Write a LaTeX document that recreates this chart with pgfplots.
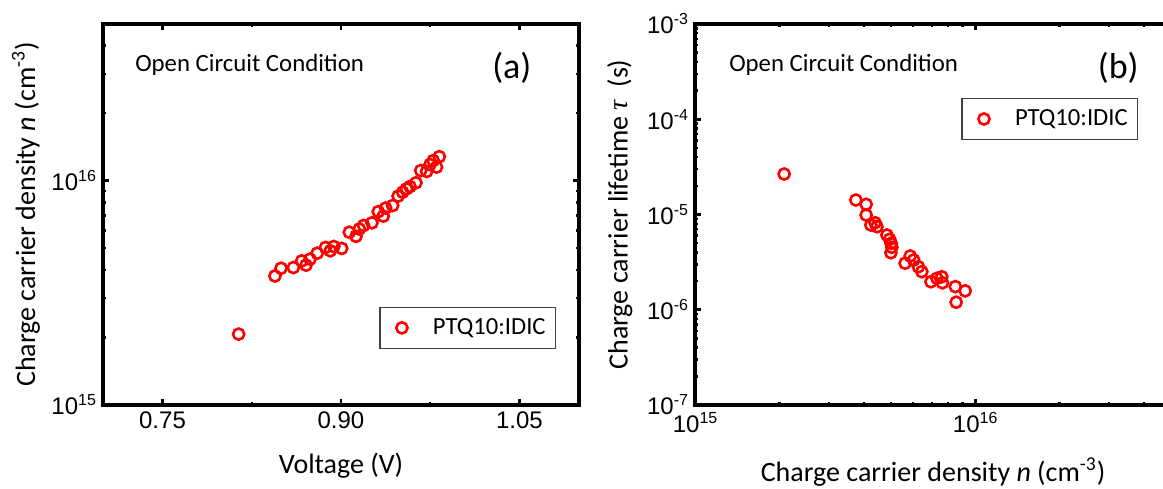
\documentclass[border=0pt]{standalone}
\usepackage{fontspec}
\setmainfont{Carlito}
\newfontfamily\arialfont{Liberation Sans}
\newfontfamily\greekserif{Liberation Serif}
\usepackage{pgfplots}
\pgfplotsset{compat=1.18}

% power-of-ten tick labels set in the sans tick font
\newcommand{\tenexp}[1]{10\raisebox{4.5pt}{\fontsize{8}{9}\selectfont #1}}

\pgfplotstableread{
V      n
0.814  2.07e15
0.8445 3.76e15
0.8496 4.07e15
0.860  4.10e15
0.867  4.39e15
0.8706 4.20e15
0.874  4.47e15
0.880  4.75e15
0.887  5.04e15
0.891  4.87e15
0.894  5.09e15
0.9006 4.99e15
0.907  5.89e15
0.9126 5.65e15
0.9154 6.09e15
0.919  6.31e15
0.926  6.49e15
0.9313 7.28e15
0.9355 6.95e15
0.9375 7.55e15
0.9434 7.75e15
0.948  8.54e15
0.9518 8.89e15
0.9551 9.20e15
0.958  9.42e15
0.963  9.79e15
0.967  1.11e16
0.972  1.10e16
0.9748 1.18e16
0.9775 1.23e16
0.9803 1.15e16
0.9826 1.28e16
}\densityvoltage

\pgfplotstableread{
n       tau
2.08e15 2.66e-5
3.75e15 1.42e-5
4.08e15 1.28e-5
4.08e15 9.88e-6
4.24e15 7.76e-6
4.39e15 8.20e-6
4.46e15 7.45e-6
4.84e15 6.09e-6
4.95e15 5.49e-6
5.01e15 4.99e-6
5.04e15 4.53e-6
5.00e15 3.97e-6
5.62e15 3.08e-6
5.86e15 3.67e-6
6.03e15 3.33e-6
6.27e15 2.83e-6
6.45e15 2.51e-6
6.95e15 1.97e-6
7.30e15 2.14e-6
7.60e15 2.22e-6
7.64e15 1.92e-6
8.49e15 1.75e-6
9.21e15 1.58e-6
8.55e15 1.20e-6
}\lifetime

\pgfplotsset{
  panel/.style={
    scale only axis, width=238pt, height=190.5pt,
    axis line style={line width=1.6pt},
    tick align=inside,
    major tick length=3pt, minor tick length=1.6pt,
    every major tick/.append style={black, line width=1.3pt},
    every minor tick/.append style={black, line width=1.2pt},
    tick label style={font=\arialfont\fontsize{12}{14}\selectfont},
    label style={font=\fontsize{14}{16}\selectfont, inner sep=1pt},
    legend style={draw=black!75, line width=0.6pt,
      font=\fontsize{12.3}{14}\selectfont, inner xsep=3pt, inner ysep=3.5pt},
    legend cell align=left,
    legend image code/.code={%
      \path[draw=none, fill=none] (-8pt,0pt) -- (13.5pt,0pt);
      \draw[##1] plot coordinates {(0pt,0pt)};},
  },
  datamark/.style={only marks, mark=o, mark size=2.8pt,
    mark options={draw=red, line width=1.3pt}, color=red},
}

\begin{document}
\begin{tikzpicture}
% (a) carrier density versus open-circuit voltage
\begin{axis}[panel,
  at={(51.5pt,41.5pt)}, anchor=south west,
  ymode=log,
  xmin=0.70, xmax=1.10, ymin=1e15, ymax=5e16,
  xtick={0.75,0.9,1.05}, xticklabels={0.75,0.90,1.05},
  minor xtick={0.825,0.975},
  ytick={1e15,1e16}, yticklabels={\tenexp{15},\tenexp{16}},
  minor ytick={2e15,3e15,4e15,5e15,6e15,7e15,8e15,9e15,2e16,3e16,4e16,5e16},
  xlabel={Voltage (V)},
  ylabel={Charge carrier density \textit{n} (cm\textsuperscript{-3})},
  xlabel style={at={(axis description cs:0.5,-0.16)}, anchor=center},
  ylabel style={at={(axis description cs:-0.162,0.5)}, anchor=center},
  legend style={at={(0.952,0.147)}, anchor=south east},
]
\addplot[datamark] table[x=V, y=n] {\densityvoltage};
\addlegendentry{PTQ10:IDIC}
\node[anchor=west, inner sep=0pt, font=\fontsize{12.4}{14}\selectfont] at (rel axis cs:0.067,0.892) {Open Circuit Condition};
\node[font=\fontsize{18}{20}\selectfont] at (rel axis cs:0.859,0.885) {(a)};
\end{axis}

% (b) carrier lifetime versus carrier density
\begin{axis}[panel,
  at={(347.5pt,41.5pt)}, anchor=south west,
  xmode=log, ymode=log,
  xmin=1e15, xmax=5e16, ymin=1e-7, ymax=1e-3,
  xtick={1e15,1e16}, xticklabels={\tenexp{15},\tenexp{16}},
  minor xtick={2e15,3e15,4e15,5e15,6e15,7e15,8e15,9e15,2e16,3e16,4e16,5e16},
  ytick={1e-7,1e-6,1e-5,1e-4,1e-3},
  yticklabels={\tenexp{-7},\tenexp{-6},\tenexp{-5},\tenexp{-4},\tenexp{-3}},
  xlabel={Charge carrier density \textit{n} (cm\textsuperscript{-3})},
  ylabel={Charge carrier lifetime {\greekserif\itshape τ}\ \ (s)},
  xlabel style={at={(axis description cs:0.5,-0.176)}, anchor=center},
  ylabel style={at={(axis description cs:-0.158,0.5)}, anchor=center},
  legend style={at={(0.931,0.806)}, anchor=north east},
]
\addplot[datamark] table[x=n, y=tau] {\lifetime};
\addlegendentry{PTQ10:IDIC}
\node[anchor=west, inner sep=0pt, font=\fontsize{12.4}{14}\selectfont] at (rel axis cs:0.071,0.892) {Open Circuit Condition};
\node[font=\fontsize{18}{20}\selectfont] at (rel axis cs:0.889,0.885) {(b)};
\end{axis}

\pgfresetboundingbox
\path[use as bounding box] (0,0) rectangle (581.5pt,244pt);
\end{tikzpicture}
\end{document}
